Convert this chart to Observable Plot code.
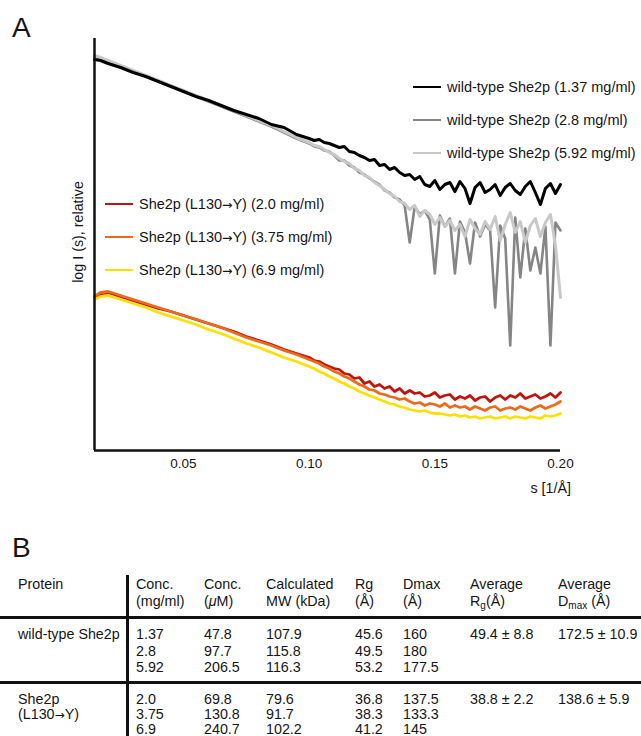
<!DOCTYPE html>
<html>
<head>
<meta charset="utf-8">
<script src="https://cdn.jsdelivr.net/npm/d3@7"></script>
<script src="https://cdn.jsdelivr.net/npm/@observablehq/plot@0.6"></script>
<style>
  html, body { margin: 0; padding: 0; background: #fff; }
  #root { position: relative; width: 641px; height: 736px; overflow: hidden;
          font-family: "Liberation Sans", Arial, Helvetica, sans-serif; color: #151515; }
  .abs { position: absolute; white-space: nowrap; }
  .panel { font-size: 28px; line-height: 1; }
  .leg { position: absolute; height: 20px; display: flex; align-items: center; font-size: 14.5px; white-space: nowrap; }
  .leg .sw { width: 28px; height: 2.6px; margin-right: 6px; }
  .cell { position: absolute; font-size: 14.3px; line-height: 16.5px; white-space: nowrap; }
  .hline { position: absolute; left: 0; width: 641px; height: 2.6px; background: #111; }
  .vline { position: absolute; width: 2.6px; background: #111; }
  .arr { font-family: "DejaVu Sans", sans-serif; font-size: 0.85em; }
  sub { font-size: 10px; vertical-align: -3px; line-height: 0; }
</style>
</head>
<body>
<div id="root">
  <div class="abs panel" style="left:12px;top:14px;">A</div>
  <div id="chart" class="abs" style="left:0;top:0;"></div>
  <div id="legendWT"></div>
  <div id="legendMut"></div>
  <div class="abs" style="left:78px;top:232px;font-size:14.3px;transform:translate(-50%,-50%) rotate(-90deg);">log I (s), relative</div>
  <div class="abs" style="right:70px;top:480px;font-size:14.3px;">s [1/Å]</div>
  <div class="abs panel" style="left:12px;top:534px;">B</div>
  <div id="table"></div>
</div>
<script>
// ---- Panel A data (s in 1/Å, log I relative) ----
const sValues = [0.0146, 0.017, 0.020, 0.025, 0.030, 0.035, 0.040, 0.045, 0.050, 0.055, 0.060, 0.065, 0.070, 0.075, 0.080, 0.085, 0.090, 0.095,
  0.100,0.102,0.104,0.106,0.108,0.110,0.112,0.114,0.116,0.118,
  0.120,0.122,0.124,0.126,0.128,0.130,0.132,0.134,0.136,0.138,
  0.140,0.142,0.144,0.146,0.148,0.150,0.152,0.154,0.156,0.158,
  0.160,0.162,0.164,0.166,0.168,0.170,0.172,0.174,0.176,0.178,
  0.180,0.182,0.184,0.186,0.188,0.190,0.192,0.194,0.196,0.198,
  0.200];

const wt137 = [3.91,3.90,3.87,3.83,3.78,3.74,3.69,3.64,3.59,3.54,3.50,3.45,3.40,3.36,3.32,3.26,3.23,3.16,
  3.12,3.10,3.11,3.08,3.07,3.05,3.03,3.04,2.99,2.98,
  2.95,2.93,2.90,2.91,2.85,2.86,2.81,2.83,2.78,2.75,
  2.76,2.71,2.74,2.66,2.64,2.70,2.61,2.66,2.68,2.59,
  2.69,2.62,2.47,2.63,2.68,2.58,2.61,2.66,2.55,2.63,
  2.67,2.60,2.56,2.64,2.69,2.58,2.46,2.62,2.67,2.57,
  2.66];

const wt28 = [3.94,3.92,3.89,3.84,3.79,3.74,3.69,3.64,3.59,3.54,3.49,3.44,3.39,3.34,3.29,3.24,3.18,3.12,
  3.07,3.04,3.03,3.00,2.99,2.95,2.90,2.90,2.85,2.83,
  2.78,2.76,2.72,2.69,2.66,2.60,2.58,2.53,2.51,2.45,
  2.08,2.44,2.36,2.40,2.31,1.77,2.35,2.24,2.32,1.77,
  2.29,2.18,1.87,2.28,2.14,2.26,2.20,1.43,2.25,2.12,
  1.05,2.33,1.73,2.22,1.80,2.03,1.77,2.24,1.05,2.28,
  2.20];

const wt592 = [3.95,3.93,3.90,3.85,3.80,3.75,3.70,3.65,3.60,3.55,3.50,3.45,3.40,3.35,3.30,3.25,3.19,3.13,
  3.08,3.05,3.04,3.01,2.98,2.96,2.92,2.89,2.87,2.82,
  2.80,2.75,2.73,2.68,2.65,2.61,2.57,2.54,2.49,2.47,
  2.41,2.45,2.34,2.40,2.36,2.26,2.33,2.24,2.30,2.20,
  2.26,2.14,2.31,2.22,2.16,2.29,2.21,2.34,2.10,2.26,
  2.38,2.18,2.29,2.08,2.25,2.32,2.14,2.28,2.36,2.05,
  1.53];

const mut20 = [1.54,1.57,1.58,1.54,1.50,1.46,1.42,1.39,1.35,1.31,1.27,1.23,1.19,1.14,1.10,1.06,1.01,0.97,
  0.93,0.90,0.89,0.86,0.84,0.82,0.81,0.77,0.76,0.72,
  0.73,0.67,0.69,0.64,0.66,0.62,0.64,0.59,0.62,0.57,
  0.60,0.57,0.58,0.54,0.55,0.58,0.53,0.55,0.56,0.51,
  0.54,0.52,0.55,0.50,0.53,0.54,0.49,0.53,0.55,0.51,
  0.55,0.53,0.57,0.52,0.54,0.56,0.52,0.54,0.57,0.53,
  0.58];

const mut375 = [1.54,1.58,1.59,1.55,1.51,1.47,1.43,1.39,1.35,1.31,1.27,1.23,1.18,1.13,1.09,1.05,1.00,0.96,
  0.91,0.89,0.87,0.84,0.82,0.79,0.77,0.74,0.72,0.69,
  0.66,0.64,0.61,0.60,0.57,0.56,0.54,0.53,0.51,0.52,
  0.49,0.47,0.48,0.45,0.47,0.46,0.44,0.47,0.43,0.45,
  0.43,0.44,0.41,0.44,0.42,0.40,0.43,0.44,0.40,0.42,
  0.43,0.41,0.44,0.42,0.40,0.43,0.45,0.42,0.44,0.46,
  0.49];

const mut69 = [1.51,1.54,1.55,1.51,1.47,1.43,1.38,1.34,1.30,1.26,1.21,1.17,1.12,1.07,1.03,0.98,0.93,0.89,
  0.84,0.82,0.79,0.77,0.74,0.72,0.69,0.67,0.64,0.62,
  0.59,0.57,0.55,0.53,0.51,0.49,0.47,0.46,0.44,0.43,
  0.41,0.40,0.39,0.40,0.38,0.37,0.37,0.36,0.35,0.36,
  0.34,0.35,0.33,0.34,0.32,0.33,0.34,0.32,0.33,0.34,
  0.32,0.34,0.33,0.32,0.34,0.33,0.32,0.35,0.34,0.35,
  0.37];

const wtLabels = ["wild-type She2p (1.37 mg/ml)", "wild-type She2p (2.8 mg/ml)", "wild-type She2p (5.92 mg/ml)"];
const wtColors = ["#000000", "#858585", "#c8c8c8"];
const mutLabels = ["She2p (L130→Y) (2.0 mg/ml)", "She2p (L130→Y) (3.75 mg/ml)", "She2p (L130→Y) (6.9 mg/ml)"];
const mutColors = ["#c0140c", "#ec6a1a", "#fbe000"];
const xTicks = [0.05, 0.10, 0.15, 0.20];

// ---- Panel B data ----
const tableHeaders = ["Protein", "Conc.<br>(mg/ml)", "Conc.<br>(<i>μ</i>M)", "Calculated<br>MW (kDa)", "Rg<br>(Å)", "Dmax<br>(Å)", "Average<br>R<sub>g</sub>(Å)", "Average<br>D<sub>max</sub> (Å)"];
const proteins = [["wild-type She2p"], ["She2p", "(L130→Y)"]];
const concMg = [["1.37", "2.8", "5.92"], ["2.0", "3.75", "6.9"]];
const concUM = [["47.8", "97.7", "206.5"], ["69.8", "130.8", "240.7"]];
const mwKDa = [["107.9", "115.8", "116.3"], ["79.6", "91.7", "102.2"]];
const rgA = [["45.6", "49.5", "53.2"], ["36.8", "38.3", "41.2"]];
const dmaxA = [["160", "180", "177.5"], ["137.5", "133.3", "145"]];
const avgRg = [["49.4 ± 8.8"], ["38.8 ± 2.2"]];
const avgDmax = [["172.5 ± 10.9"], ["138.6 ± 5.9"]];

const withArrow = s => s.replace("→", '<span class="arr">→</span>');

// ---- Build chart ----
const series = [
  {vals: wt28, color: wtColors[1], w: 2.6},
  {vals: wt592, color: wtColors[2], w: 3},
  {vals: wt137, color: wtColors[0], w: 3},
  {vals: mut69, color: mutColors[2], w: 2.8},
  {vals: mut20, color: mutColors[0], w: 2.8},
  {vals: mut375, color: mutColors[1], w: 2.8}
];
const xMin = sValues[0], xMax = 0.2, yMin = 0, yMax = 4.12;

const lineMarks = series.map(ser =>
  Plot.line(sValues.map((s, j) => ({s, v: ser.vals[j]})), {x: "s", y: "v", stroke: ser.color, strokeWidth: ser.w, strokeLinejoin: "round"})
);

const chart = Plot.plot({
  width: 641, height: 500,
  marginLeft: 94, marginRight: 81, marginTop: 38, marginBottom: 50,
  style: {fontFamily: '"Liberation Sans", Arial, sans-serif', fontSize: "13.5px", color: "#151515", background: "transparent"},
  x: {domain: [xMin, xMax]},
  y: {domain: [yMin, yMax], axis: null},
  marks: [
    ...lineMarks,
    Plot.ruleX([xMin], {y1: yMin, y2: yMax, stroke: "#111", strokeWidth: 2.5}),
    Plot.ruleY([yMin], {x1: xMin, x2: xMax, stroke: "#111", strokeWidth: 2.5}),
    Plot.axisX({ticks: xTicks, tickSize: 0, tickPadding: 8, tickFormat: d => d.toFixed(2), label: null, fontSize: 13.5})
  ]
});
document.getElementById("chart").appendChild(chart);

function buildLegend(id, labels, colors, left, top) {
  const host = document.getElementById(id);
  labels.forEach((lab, i) => {
    const row = document.createElement("div");
    row.className = "leg";
    row.style.left = left + "px";
    row.style.top = (top + i * 33 - 10) + "px";
    const sw = document.createElement("span");
    sw.className = "sw";
    sw.style.background = colors[i];
    const tx = document.createElement("span");
    tx.innerHTML = withArrow(lab);
    row.appendChild(sw); row.appendChild(tx);
    host.appendChild(row);
  });
}
buildLegend("legendWT", wtLabels, wtColors, 413, 87);
buildLegend("legendMut", mutLabels, mutColors, 105, 204);

// ---- Build table ----
const tbl = document.getElementById("table");
const colX = [18, 136, 204, 266, 355, 403, 470, 558];
const columns = [proteins, concMg, concUM, mwKDa, rgA, dmaxA, avgRg, avgDmax];
const groupTop = [626, 692];
tableHeaders.forEach((h, c) => {
  const d = document.createElement("div");
  d.className = "cell";
  d.style.left = colX[c] + "px";
  d.style.top = "576px";
  d.innerHTML = h;
  tbl.appendChild(d);
});
columns.forEach((col, c) => {
  col.forEach((lines, g) => {
    const d = document.createElement("div");
    d.className = "cell";
    d.style.left = colX[c] + "px";
    d.style.top = groupTop[g] + "px";
    d.style.lineHeight = (g === 0 ? 16.5 : 15) + "px";
    d.innerHTML = lines.map(withArrow).join("<br>");
    tbl.appendChild(d);
  });
});
[616, 681].forEach(y => {
  const l = document.createElement("div");
  l.className = "hline";
  l.style.top = y + "px";
  tbl.appendChild(l);
});
const v = document.createElement("div");
v.className = "vline";
v.style.left = "126px"; v.style.top = "575px"; v.style.height = "161px";
tbl.appendChild(v);
</script>
</body>
</html>
